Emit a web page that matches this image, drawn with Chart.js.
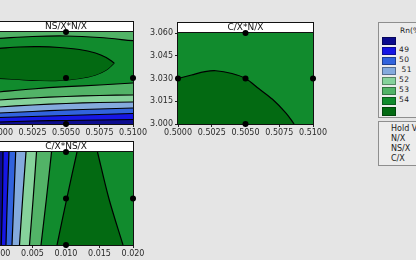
<!DOCTYPE html>
<html>
<head>
<meta charset="utf-8">
<script src="https://cdn.jsdelivr.net/npm/chart.js@4.4.1/dist/chart.umd.min.js"></script>
<style>
  html, body { margin: 0; padding: 0; width: 416px; height: 260px; overflow: hidden; background: #e5e5e5; font-family: 'DejaVu Sans', sans-serif; }
  canvas { position: absolute; }
  .box { position: absolute; left: 378px; width: 60px; border: 1px solid #8e8e8e; background: #ececec; box-sizing: border-box; }
  .sw { position: absolute; left: 3px; width: 12px; height: 6px; border: 0.5px solid rgba(0,0,0,.35); }
  .lb { position: absolute; font-size: 7.5px; line-height: 8px; color: #222; letter-spacing: .6px; white-space: nowrap; }
  .hv { position: absolute; left: 12px; font-size: 8px; line-height: 9px; color: #222; white-space: nowrap; }
</style>
</head>
<body>
<canvas id="pA" width="165" height="118" style="left:-17px;top:20px"></canvas>
<canvas id="pB" width="180" height="117" style="left:148px;top:21px"></canvas>
<canvas id="pC" width="165" height="119" style="left:-17px;top:140px"></canvas>
<div class="box" id="legend" style="top:22px;height:96px"></div>
<div class="box" id="holds" style="top:121px;height:45px"></div>
<script>
// axis ticks
const nxTicks = [0.5000, 0.5025, 0.5050, 0.5075, 0.5100];
const nsTicks = [0.000, 0.005, 0.010, 0.015, 0.020];
const cxTicks = [3.000, 3.015, 3.030, 3.045, 3.060];

// legend
const bandColors = ['#0c0c8e', '#1616e4', '#3163dd', '#84aadd', '#86d29b', '#52b367', '#118b2d', '#036a12'];
const bandLabels = ['', '49', '50', '51', '52', '53', '54', ''];
const holdLabels = ['Hold Values', 'N/X', 'NS/X', 'C/X'];

// NS/X*N/X : NS/X of each contour, read at nxTicks
const ns49 = [0.00043, 0.00065, 0.00076, 0.00087, 0.00098];
const ns50 = [0.00141, 0.00163, 0.00185, 0.00207, 0.00228];
const ns51 = [0.00239, 0.00272, 0.00304, 0.00326, 0.00348];
const ns52 = [0.00370, 0.00413, 0.00446, 0.00467, 0.00478];
const ns53 = [0.00522, 0.00565, 0.00598, 0.00620, 0.00630];
const ns54 = [0.00696, 0.00761, 0.00811, 0.00848, 0.00891];
const ns54top = [0.01863, 0.01902, 0.01913, 0.01880, 0.01811];
// closed 55 contour
const ovalNX = [0.5000, 0.5015, 0.5030, 0.5045, 0.5060, 0.5072, 0.5080, 0.5086];
const ovalTop = [0.01646, 0.01674, 0.01680, 0.01663, 0.01620, 0.01543, 0.01446, 0.01326];
const ovalBottom = [0.00993, 0.00967, 0.00946, 0.00946, 0.00989, 0.01065, 0.01174, 0.01326];

// C/X*N/X : 55 contour
const curveNX = [0.5000, 0.5010, 0.5020, 0.5028, 0.5040, 0.5050, 0.5060, 0.5070, 0.5080, 0.5086];
const curveCX = [3.0300, 3.0323, 3.0345, 3.0351, 3.0333, 3.0300, 3.0232, 3.0163, 3.0072, 3.0000];

// C/X*NS/X : NS/X of each contour, read at cxRows
const cxRows = [3.000, 3.030, 3.060];
const c49 = [0.00034, 0.00052, 0.00060];
const c50 = [0.00104, 0.00124, 0.00149];
const c51 = [0.00194, 0.00222, 0.00249];
const c52 = [0.00306, 0.00353, 0.00403];
const c53 = [0.00455, 0.00510, 0.00560];
const c54 = [0.00627, 0.00708, 0.00784];
const c55a = [0.00866, 0.01012, 0.01164];
const c55b = [0.01851, 0.01640, 0.01470];

// hold points
const holdNX_A = [0.505, 0.505, 0.510, 0.505];
const holdNS_A = [0.020, 0.010, 0.010, 0.000];
const holdNX_B = [0.505, 0.500, 0.505, 0.510, 0.505];
const holdCX_B = [3.060, 3.030, 3.030, 3.030, 3.000];
const holdNS_C = [0.010, 0.010, 0.020, 0.010];
const holdCX_C = [3.060, 3.030, 3.030, 3.000];

const font = { family: 'DejaVu Sans', size: 8 };

const panel = {
  id: 'panel',
  beforeDatasetsDraw(chart, args, opts) {
    const { ctx, chartArea: a } = chart;
    ctx.save();
    ctx.fillStyle = opts.bg;
    ctx.fillRect(a.left, a.top, a.width, a.height);
    ctx.fillStyle = '#fff';
    ctx.fillRect(a.left, a.top - 10, a.width, 10);
    ctx.strokeStyle = '#111';
    ctx.lineWidth = 1;
    ctx.strokeRect(a.left - 0.5, a.top - 10.5, a.width + 1, 10);
    ctx.strokeRect(a.left - 0.5, a.top - 0.5, a.width + 1, a.height + 1);
    ctx.fillStyle = '#111';
    ctx.font = '9px "DejaVu Sans"';
    ctx.textAlign = 'center';
    ctx.textBaseline = 'middle';
    ctx.fillText(opts.title, (a.left + a.right) / 2, a.top - 5);
    ctx.restore();
  }
};

function pts(xs, ys) {
  return xs.map((x, i) => ({ x, y: ys[i] }));
}

function line(data, fill, color) {
  return { data, fill, backgroundColor: color, borderColor: '#000', borderWidth: 1.2, pointRadius: 0, tension: 0.35 };
}

function dots(data) {
  return { data, showLine: false, pointRadius: 3, pointBackgroundColor: '#000', pointBorderWidth: 0, clip: false };
}

function axis(ticks, digits, show) {
  return {
    type: 'linear',
    display: show,
    min: ticks[0],
    max: ticks[ticks.length - 1],
    afterBuildTicks: s => { s.ticks = ticks.map(v => ({ value: v })); },
    grid: { drawOnChartArea: false, tickLength: 3, color: '#222' },
    border: { display: false },
    ticks: { autoSkip: false, maxRotation: 0, padding: 1, color: '#2a2a2a', font, callback: v => v.toFixed(digits) }
  };
}

function make(id, datasets, scales, bg, title, padLeft, extra) {
  datasets.forEach((d, i) => { d.order = datasets.length - i; });
  new Chart(document.getElementById(id), {
    type: 'line',
    data: { datasets },
    options: Object.assign({
      responsive: false,
      animation: false,
      events: [],
      layout: { autoPadding: false, padding: { top: 12, right: 15, left: padLeft, bottom: 0 } },
      scales,
      plugins: { legend: { display: false }, tooltip: { enabled: false }, panel: { bg, title } }
    }, extra || {}),
    plugins: [panel]
  });
}

// NS/X*N/X
const xA = axis(nxTicks, 4, true);
xA.afterFit = s => { s.height = 14; };
make('pA', [
  line(pts(nxTicks, ns49), 'end', bandColors[1]),
  line(pts(nxTicks, ns50), 'end', bandColors[2]),
  line(pts(nxTicks, ns51), 'end', bandColors[3]),
  line(pts(nxTicks, ns52), 'end', bandColors[4]),
  line(pts(nxTicks, ns53), 'end', bandColors[5]),
  line(pts(nxTicks, ns54), 'end', bandColors[6]),
  line(pts(nxTicks, ns54top), 'end', bandColors[5]),
  line(pts(ovalNX, ovalBottom), false, bandColors[7]),
  line(pts(ovalNX, ovalTop), 7, bandColors[7]),
  dots(pts(holdNX_A, holdNS_A))
], { x: xA, y: axis(nsTicks, 3, false) }, bandColors[0], 'NS/X*N/X', 16);

// C/X*N/X
const xB = axis(nxTicks, 4, true);
xB.afterFit = s => { s.height = 14; };
const yB = axis(cxTicks, 3, true);
yB.ticks.padding = 2;
yB.afterFit = s => { s.width = 30; };
make('pB', [
  line(pts(curveNX, curveCX), 'start', bandColors[7]),
  dots(pts(holdNX_B, holdCX_B))
], { x: xB, y: yB }, bandColors[6], 'C/X*N/X', 0);

// C/X*NS/X
const xC = axis(nsTicks, 3, true);
xC.afterFit = s => { s.height = 14; };
const right = { value: nsTicks[nsTicks.length - 1] };
make('pC', [
  line(pts(c49, cxRows), right, bandColors[1]),
  line(pts(c50, cxRows), right, bandColors[2]),
  line(pts(c51, cxRows), right, bandColors[3]),
  line(pts(c52, cxRows), right, bandColors[4]),
  line(pts(c53, cxRows), right, bandColors[5]),
  line(pts(c54, cxRows), right, bandColors[6]),
  line(pts(c55a, cxRows), right, bandColors[7]),
  line(pts(c55b, cxRows), right, bandColors[6]),
  dots(pts(holdNS_C, holdCX_C))
], { x: xC, y: axis(cxTicks, 3, false) }, bandColors[0], 'C/X*NS/X', 16, { indexAxis: 'y' });

// legend boxes
const lg = document.getElementById('legend');
lg.insertAdjacentHTML('beforeend', '<div class="lb" style="left:21px;top:4px;letter-spacing:0">Rn(%)</div>');
bandColors.forEach((c, i) => {
  const h = i === bandColors.length - 1 ? 7 : 6;
  lg.insertAdjacentHTML('beforeend', `<div class="sw" style="top:${14 + i * 10}px;height:${h}px;background:${c}"></div>`);
  if (bandLabels[i]) {
    const left = bandLabels[i] === '51' ? 22.5 : 20;
    lg.insertAdjacentHTML('beforeend', `<div class="lb" style="left:${left}px;top:${23 + (i - 1) * 10}px">${bandLabels[i]}</div>`);
  }
});
const hd = document.getElementById('holds');
holdLabels.forEach((t, i) => {
  hd.insertAdjacentHTML('beforeend', `<div class="hv" style="top:${1.5 + i * 10.3}px">${t}</div>`);
});
</script>
</body>
</html>
